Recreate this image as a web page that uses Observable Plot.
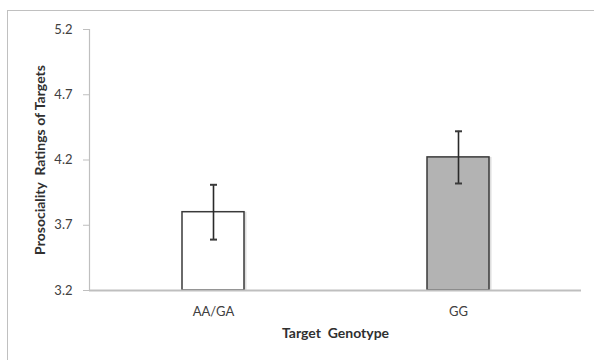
<!DOCTYPE html>
<html>
<head>
<meta charset="utf-8">
<script src="https://cdn.jsdelivr.net/npm/d3@7"></script>
<script src="https://cdn.jsdelivr.net/npm/@observablehq/plot@0.6"></script>
<style>
  html, body { margin: 0; padding: 0; background: #fff; overflow: hidden; }
  #wrap { position: relative; width: 594px; height: 360px; }
  #border { position: absolute; left: 7px; top: 10px; width: 620px; height: 400px;
            border: 1.5px solid #c0c0c0; box-sizing: border-box; }
  #chart { position: absolute; left: 0; top: 0; }
</style>
</head>
<body>
<div id="wrap"><div id="border"></div><div id="chart"></div></div>
<script>
const categories = ["AA/GA", "GG"];
const means = [3.80, 4.22];
const errors = [0.21, 0.20];
const fills = ["#ffffff", "#b3b3b3"];
const yTicks = [3.2, 3.7, 4.2, 4.7, 5.2];
const xTitle = "Target\u00a0 Genotype";
const yTitle = "Prosociality\u00a0 Ratings\u00a0of\u00a0Targets";

const data = categories.map((c, i) => ({
  cat: c, mean: means[i], lo: means[i] - errors[i], hi: means[i] + errors[i], fill: fills[i]
}));

const font = "Lato, 'Open Sans', sans-serif";
const textColor = "#404040";
const axisColor = "#bfbfbf";

// horizontal cap symbol for error bars
const capSymbol = {
  draw(context, size) {
    const r = Math.sqrt(size / Math.PI);
    context.moveTo(-r, 0);
    context.lineTo(r, 0);
  }
};

const chart = Plot.plot({
  width: 594,
  height: 360,
  marginLeft: 89,
  marginRight: 13,
  marginTop: 29,
  marginBottom: 70,
  style: { fontFamily: font, fontSize: "12px", color: textColor, background: "transparent" },
  x: { domain: categories, paddingInner: 0.7475, paddingOuter: 0.374, label: null },
  y: { domain: [3.2, 5.2], label: null },
  marks: [
    Plot.axisY({ ticks: yTicks, tickFormat: d3.format(".1f"), tickSize: 6, tickPadding: 11, stroke: axisColor, fill: textColor, fontSize: 13 }),
    Plot.axisX({ tickSize: 0, tickPadding: 16, fill: textColor, fontSize: 13 }),
    Plot.frame({ anchor: "left", stroke: axisColor, strokeWidth: 1.2 }),
    Plot.barY(data, { x: "cat", y1: 3.2, y2: "mean", fill: "#dedede", dx: 2.5 }),
    Plot.barY(data, { x: "cat", y1: 3.2, y2: "mean", fill: "fill", stroke: "#3a3a3a", strokeWidth: 1.5 }),
    Plot.ruleY([3.2], { stroke: axisColor, strokeWidth: 1.8 }),
    Plot.ruleX(data, { x: "cat", y1: "lo", y2: "hi", stroke: "#2a2a2a", strokeWidth: 1.6 }),
    Plot.dot(data, { x: "cat", y: "lo", symbol: capSymbol, r: 3.5, stroke: "#3a3a3a", strokeWidth: 2, fill: "none" }),
    Plot.dot(data, { x: "cat", y: "hi", symbol: capSymbol, r: 3.5, stroke: "#3a3a3a", strokeWidth: 2, fill: "none" }),
    Plot.text([xTitle], { frameAnchor: "bottom", dy: 47, fontWeight: "bold", fontSize: 14, fill: "#303030" }),
    Plot.text([yTitle], { frameAnchor: "left", textAnchor: "middle", dx: -49, rotate: -90, fontWeight: "bold", fontSize: 14, fill: "#303030" })
  ]
});
document.getElementById("chart").appendChild(chart);
</script>
</body>
</html>
